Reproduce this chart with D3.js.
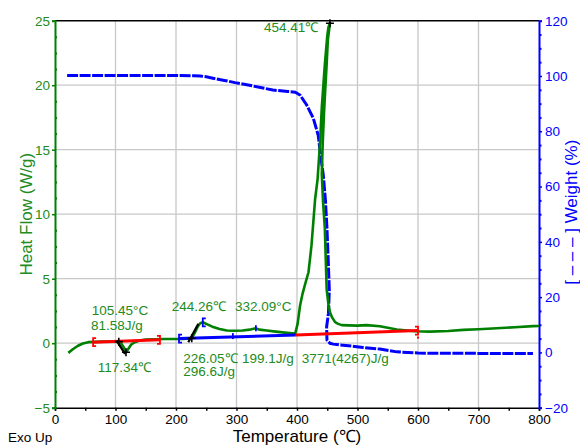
<!DOCTYPE html>
<html>
<head>
<meta charset="utf-8">
<script src="https://cdn.jsdelivr.net/npm/d3@7"></script>
<style>
  html, body { margin: 0; padding: 0; background: #fff; }
  svg { display: block; font-family: "Liberation Sans", Arial, sans-serif; }
</style>
</head>
<body>
<svg id="chart" width="580" height="446"></svg>
<script>
// Heat flow (DSC) curve: temperature (°C) and heat flow (W/g)
const hfTemp = [22, 30, 38, 46, 55, 65, 80, 95, 104, 110, 114, 117.3, 121, 126, 132, 140, 150, 165, 180, 195,
  210, 220, 226, 231, 236, 240, 244.3, 250, 260, 272, 284, 296, 310, 322, 328, 332.1, 338, 350, 365, 380,
  392, 397, 401, 405, 409, 413, 419, 424, 427, 430, 434, 438, 441, 446, 450, 452, 454.4,
  451, 449, 446.5, 444.6, 442.5, 441, 443, 446, 449, 452, 454.5, 458, 463, 468, 474, 485, 500, 515, 537,
  565, 595, 620, 650, 675, 700, 730, 760, 790, 800];
const hfValue = [-0.75, -0.45, -0.2, -0.02, 0.08, 0.1, 0.12, 0.12, 0.1, -0.05, -0.35, -0.7, -0.45, -0.1, 0.08, 0.2, 0.28, 0.3, 0.32, 0.33,
  0.33, 0.34, 0.4, 0.8, 1.3, 1.55, 1.62, 1.5, 1.28, 1.1, 0.98, 0.96, 0.98, 1.05, 1.12, 1.15, 1.05, 0.98, 0.9, 0.82,
  0.76, 0.74, 1.5, 2.9, 3.8, 4.5, 5.5, 7.6, 9.4, 11.2, 12.7, 15.5, 18.3, 21.6, 23.8, 24.5, 24.8,
  23.5, 21.6, 19.5, 17.8, 15.5, 13.1, 11.0, 8.9, 4.2, 3.0, 2.4, 2.0, 1.63, 1.5, 1.4, 1.38, 1.36, 1.4, 1.32,
  1.06, 0.93, 0.9, 0.95, 1.03, 1.08, 1.16, 1.24, 1.32, 1.33];

// Weight (TGA) curve: temperature (°C) and weight (%)
const wtTemp = [20, 60, 100, 150, 200, 230, 240, 250, 261, 280, 297.5, 327, 360, 385, 397, 405, 416, 427, 435, 439,
  443.5, 447, 449.5, 451.8, 453.4, 452, 449, 449.5, 454.5, 460, 471, 490, 509, 537, 565, 600, 620, 700, 790];
const wtValue = [100.2, 100.2, 100.2, 100.2, 100.2, 100.1, 100, 99.7, 99.2, 98.4, 97.6, 96.4, 94.9, 94.4, 94.1, 93.1, 89.5, 84.7, 78.6, 71.4,
  64, 55, 45, 32.3, 22.6, 14.2, 9.3, 4.5, 3.3, 3.0, 2.7, 2.3, 1.8, 1.2, 0.2, -0.2, -0.3, -0.35, -0.4];

// Integration baselines [temperature, heat flow]
const baselineRed1 = [[63, 0.08], [173.5, 0.26]];
const baselineBlue = [[205, 0.36], [398, 0.64]];
const baselineRed2 = [[398, 0.64], [600, 0.98]];

// Onset tangent lines [temperature, heat flow]
const tangent1 = [[101.9, 0.2], [115.7, -0.83]];
const tangent2 = [[220.3, 0.08], [236.9, 1.5]];

// Analysis labels: text, temperature and heat flow of the label's left baseline point
const labelText = ["105.45°C", "81.58J/g", "117.34℃", "244.26℃", "332.09°C", "226.05℃", "296.6J/g", "199.1J/g", "3771(4267)J/g", "454.41℃"];
const labelTemp = [60.7, 59.5, 70.5, 192.9, 297.5, 212, 212, 309, 407.8, 345.5];
const labelHF = [2.15, 0.99, -2.22, 2.53, 2.53, -1.5, -2.57, -1.5, -1.5, 24.1];

// Axis ticks
const xTicks = [0, 100, 200, 300, 400, 500, 600, 700, 800];
const yLeftTicks = [-5, 0, 5, 10, 15, 20, 25];
const yRightTicks = [-20, 0, 20, 40, 60, 80, 100, 120];

const GREEN = "#008000", TEXT_GREEN = "#228b22", BLUE = "#0000ff", RED = "#ff0000";

const svg = d3.select("#chart");
const plotLeft = 55, plotRight = 539, plotTop = 20.7, plotBottom = 407.7;

const x = d3.scaleLinear().domain([0, 800]).range([plotLeft, plotRight]);
const yL = d3.scaleLinear().domain([-5, 25]).range([plotBottom, plotTop]);
const yR = d3.scaleLinear().domain([-20, 120]).range([plotBottom, plotTop]);

// grid
const grid = svg.append("g");
grid.selectAll("line.v").data(xTicks.slice(1, -1)).join("line").attr("class", "v")
  .attr("x1", d => x(d)).attr("x2", d => x(d)).attr("y1", plotTop).attr("y2", plotBottom)
  .attr("stroke", "#c8c8c8").attr("stroke-width", 1.3);
grid.selectAll("line.h").data(yLeftTicks.slice(1, -1)).join("line").attr("class", "h")
  .attr("x1", plotLeft).attr("x2", plotRight).attr("y1", d => yL(d)).attr("y2", d => yL(d))
  .attr("stroke", "#c8c8c8").attr("stroke-width", 1.3);

// top frame line
svg.append("line").attr("x1", plotLeft).attr("x2", plotRight).attr("y1", plotTop).attr("y2", plotTop)
  .attr("stroke", "#000").attr("stroke-width", 1.5);

// bottom axis
const xAxis = svg.append("g").attr("transform", `translate(0,${plotBottom})`)
  .call(d3.axisBottom(x).tickValues(xTicks).tickSize(3).tickFormat(d3.format("d")));
xAxis.select(".domain").attr("stroke", "#000").attr("stroke-width", 1.5);
xAxis.selectAll(".tick line").attr("stroke", "#000").attr("stroke-width", 1.5);
xAxis.selectAll("text").attr("font-size", "13.5px").attr("fill", "#000").attr("dy", "0.75em");
svg.append("g").attr("transform", `translate(0,${plotBottom})`)
  .call(d3.axisBottom(x).tickValues(d3.range(50, 800, 100)).tickSize(3).tickFormat(""))
  .call(g => g.select(".domain").remove())
  .selectAll("line").attr("stroke", "#000").attr("stroke-width", 1.5);

// left axis (heat flow)
const yAxisL = svg.append("g").attr("transform", `translate(${plotLeft},0)`)
  .call(d3.axisLeft(yL).tickValues(yLeftTicks).tickSize(3).tickPadding(2));
yAxisL.select(".domain").attr("stroke", GREEN).attr("stroke-width", 2);
yAxisL.selectAll(".tick line").attr("stroke", GREEN).attr("stroke-width", 1.5);
yAxisL.selectAll("text").attr("font-size", "13.5px").attr("fill", TEXT_GREEN);
svg.append("g").attr("transform", `translate(${plotLeft},0)`)
  .call(d3.axisRight(yL).tickValues(d3.range(-5, 25, 1.25).filter(v => v % 5 !== 0)).tickSize(2).tickFormat(""))
  .call(g => g.select(".domain").remove())
  .selectAll("line").attr("stroke", GREEN).attr("stroke-width", 2);

// right axis (weight)
const yAxisR = svg.append("g").attr("transform", `translate(${plotRight},0)`)
  .call(d3.axisRight(yR).tickValues(yRightTicks).tickSize(3).tickPadding(3));
yAxisR.select(".domain").attr("stroke", BLUE).attr("stroke-width", 2);
yAxisR.selectAll(".tick line").attr("stroke", BLUE).attr("stroke-width", 1.5);
yAxisR.selectAll("text").attr("font-size", "13.5px").attr("fill", BLUE);
svg.append("g").attr("transform", `translate(${plotRight},0)`)
  .call(d3.axisRight(yR).tickValues(d3.range(-20, 120, 5).filter(v => v % 20 !== 0)).tickSize(2.5).tickFormat(""))
  .call(g => g.select(".domain").remove())
  .selectAll("line").attr("stroke", BLUE).attr("stroke-width", 2);

// axis titles
svg.append("text").attr("transform", `translate(31.5,${(plotTop + plotBottom) / 2}) rotate(-90)`)
  .attr("text-anchor", "middle").attr("font-size", "17px").attr("fill", TEXT_GREEN).text("Heat Flow (W/g)");
svg.append("text").attr("transform", `translate(577,${(plotTop + plotBottom) / 2 - 2}) rotate(-90)`)
  .attr("text-anchor", "middle").attr("font-size", "17px").attr("fill", BLUE).text("[ – – – ] Weight (%)");
svg.append("text").attr("x", (plotLeft + plotRight) / 2).attr("y", 442)
  .attr("text-anchor", "middle").attr("font-size", "17px").attr("fill", "#000").text("Temperature (℃)");
svg.append("text").attr("x", 8).attr("y", 442)
  .attr("font-size", "13.5px").attr("fill", "#000").text("Exo Up");

// curves
const hfLine = d3.line().x(d => x(d[0])).y(d => yL(d[1]));
const wtLine = d3.line().x(d => x(d[0])).y(d => yR(d[1]));

svg.append("path").datum(d3.zip(wtTemp, wtValue)).attr("d", wtLine)
  .attr("fill", "none").attr("stroke", BLUE).attr("stroke-width", 3).attr("stroke-dasharray", "11,1.5");

svg.append("path").datum(d3.zip(hfTemp, hfValue)).attr("d", hfLine)
  .attr("fill", "none").attr("stroke", GREEN).attr("stroke-width", 2.6).attr("stroke-linejoin", "round");

// baselines
[[baselineRed1, RED], [baselineBlue, BLUE], [baselineRed2, RED]].forEach(([pts, c]) => {
  svg.append("path").datum(pts).attr("d", hfLine)
    .attr("fill", "none").attr("stroke", c).attr("stroke-width", 3);
});

// bracket markers at integration limits
function bracket(t, v, dir, color) {
  const px = x(t), py = yL(v);
  svg.append("path")
    .attr("d", `M${px + 3 * dir},${py - 4} H${px} V${py + 4} H${px + 3 * dir}`)
    .attr("fill", "none").attr("stroke", color).attr("stroke-width", 1.8);
}
bracket(63, 0.08, 1, RED);
bracket(173.5, 0.26, -1, RED);
bracket(205, 0.36, 1, BLUE);
bracket(244.26, 1.62, 1, BLUE);
bracket(600, 0.98, -1, RED);
svg.append("rect").attr("x", x(600) - 1).attr("y", yL(0.98) + 6).attr("width", 2).attr("height", 2).attr("fill", RED);
[[332.09, 1.15], [294, 0.55]].forEach(([t, v]) => {
  svg.append("line").attr("x1", x(t)).attr("x2", x(t)).attr("y1", yL(v) - 3).attr("y2", yL(v) + 3)
    .attr("stroke", BLUE).attr("stroke-width", 1.8);
});

// onset tangents
[tangent1, tangent2].forEach(pts => {
  svg.append("path").datum(pts).attr("d", hfLine)
    .attr("fill", "none").attr("stroke", "#000").attr("stroke-width", 2.2);
});

// cross markers at onsets and peaks
function cross(t, v) {
  const px = x(t), py = yL(v);
  svg.append("path").attr("d", `M${px - 4},${py} H${px + 4} M${px},${py - 4} V${py + 4}`)
    .attr("stroke", "#000").attr("stroke-width", 1.6);
}
cross(105.45, 0.12);
cross(117.34, -0.7);
cross(226.05, 0.38);
cross(454.41, 24.8);

// analysis labels
svg.append("g").selectAll("text").data(d3.range(labelText.length)).join("text")
  .attr("x", i => x(labelTemp[i])).attr("y", i => yL(labelHF[i]))
  .attr("font-size", "13.5px").attr("fill", TEXT_GREEN)
  .text(i => labelText[i]);
</script>
</body>
</html>
